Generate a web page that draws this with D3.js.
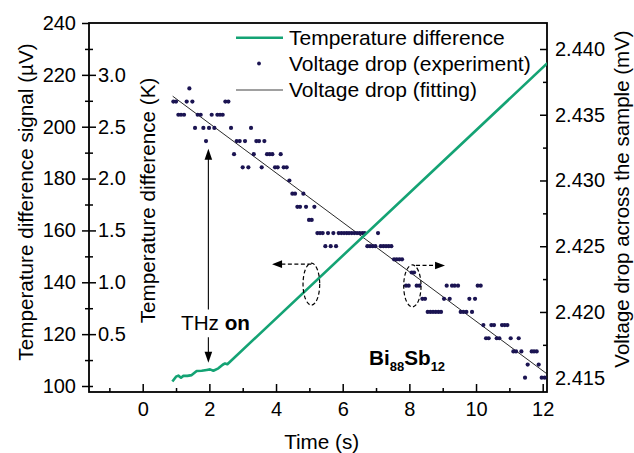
<!DOCTYPE html>
<html><head><meta charset="utf-8">
<script src="https://cdn.jsdelivr.net/npm/d3@7"></script>
<style>
body{margin:0;background:#fff}
svg{display:block}
text{font-family:"Liberation Sans",Arial,sans-serif;fill:#000}
</style>
</head><body>
<svg id="c" width="634" height="453"></svg>
<script>
// ---------- data ----------
const tempTime   = [0.89, 1.00, 1.07, 1.15, 1.22, 1.34, 1.47, 1.62, 1.77, 1.92, 2.02, 2.12, 2.27, 2.40, 2.47, 2.54, 12.14];
const tempSignal = [101.7, 103.6, 104.0, 103.2, 103.9, 103.9, 104.2, 105.8, 105.9, 106.2, 106.4, 105.9, 106.8, 108.2, 108.7, 108.4, 224.5];

const voltTime = [0.92,1.00,1.07,1.15,1.24,1.32,1.40,1.49,1.57,1.65,1.74,1.82,1.90,1.99,2.07,2.15,2.24,2.32,2.40,2.48,2.57,2.65,2.74,2.82,2.91,3.00,3.07,3.17,3.25,3.33,3.41,3.49,3.57,3.65,3.73,3.81,3.89,3.97,4.05,4.14,4.23,4.32,4.40,4.49,4.57,4.64,4.72,4.82,4.90,4.99,5.07,5.15,5.24,5.32,5.40,5.48,5.56,5.64,5.72,5.80,5.88,5.96,6.04,6.12,6.19,6.27,6.35,6.43,6.51,6.59,6.66,6.74,6.82,6.90,6.98,7.06,7.14,7.22,7.30,7.38,7.46,7.54,7.62,7.70,7.78,7.90,7.98,8.07,8.14,8.22,8.30,8.39,8.47,8.55,8.63,8.71,8.79,8.87,8.95,9.04,9.12,9.21,9.28,9.36,9.46,9.54,9.62,9.71,9.80,9.88,9.97,10.05,10.14,10.22,10.30,10.38,10.46,10.54,10.62,10.70,10.78,10.86,10.94,11.04,11.12,11.20,11.28,11.36,11.47,11.55,11.67,11.74,11.82,11.88,11.97,12.06];
const voltValue = [2.436,2.436,2.435,2.435,2.435,2.436,2.437,2.436,2.434,2.435,2.435,2.434,2.433,2.434,2.435,2.434,2.435,2.435,2.435,2.436,2.436,2.434,2.432,2.433,2.433,2.431,2.433,2.431,2.434,2.432,2.433,2.433,2.431,2.433,2.432,2.432,2.432,2.431,2.431,2.432,2.431,2.431,2.430,2.429,2.429,2.428,2.428,2.429,2.428,2.427,2.427,2.428,2.426,2.426,2.426,2.425,2.426,2.425,2.426,2.425,2.426,2.426,2.426,2.426,2.426,2.426,2.426,2.426,2.426,2.426,2.426,2.425,2.425,2.425,2.425,2.426,2.425,2.425,2.425,2.425,2.425,2.424,2.424,2.424,2.424,2.422,2.422,2.423,2.423,2.422,2.422,2.421,2.421,2.420,2.420,2.420,2.420,2.420,2.420,2.421,2.422,2.421,2.422,2.422,2.422,2.420,2.420,2.420,2.421,2.420,2.421,2.422,2.422,2.419,2.418,2.418,2.419,2.419,2.418,2.418,2.419,2.419,2.419,2.418,2.417,2.417,2.418,2.417,2.415,2.416,2.417,2.417,2.417,2.416,2.415,2.415];

const fitTime  = [0.90, 12.14];
const fitValue = [2.43641, 2.41527];

const xTicks      = [0, 2, 4, 6, 8, 10, 12];
const xMinorTicks = [-1, 1, 3, 5, 7, 9, 11];
const leftTicks      = [100, 120, 140, 160, 180, 200, 220, 240];
const leftMinorTicks = [110, 130, 150, 170, 190, 210, 230];
const innerTicks      = [0.5, 1.0, 1.5, 2.0, 2.5, 3.0];
const innerMinorTicks = [0, 0.25, 0.75, 1.25, 1.75, 2.25, 2.75, 3.25];
const rightTicks      = [2.415, 2.420, 2.425, 2.430, 2.435, 2.440];
const rightMinorTicks = [2.4175, 2.4225, 2.4275, 2.4325, 2.4375];

const legendLabels = ["Temperature difference", "Voltage drop (experiment)", "Voltage drop (fitting)"];

// ---------- layout ----------
const L = 89, R = 547, T = 23, B = 392;
const GREEN = "#14a374", NAVY = "#1b1452";
const TICKFS = "20px", TITLEFS = "20.7px";

const svg = d3.select("#c");
const x  = d3.scaleLinear().domain([0, 12]).range([142.7, 542.7]);
const yL = d3.scaleLinear().domain([100, 240]).range([386, 23]);
const yK = d3.scaleLinear().domain([0, 3.5]).range([386, 23]);
const yR = d3.scaleLinear().domain([2.415, 2.440]).range([377.7, 49]);

svg.append("defs").append("clipPath").attr("id", "clip")
  .append("rect").attr("x", L).attr("y", T).attr("width", R - L).attr("height", B - T);

function styleAxis(g) {
  g.select(".domain").remove();
  g.selectAll("line").attr("stroke", "#000").attr("stroke-width", 1.5);
  g.selectAll("text").style("font-size", TICKFS).attr("fill", "#000")
    .style("font-family", '"Liberation Sans",Arial,sans-serif');
}

// bottom axis
svg.append("g").attr("transform", `translate(0,${B})`)
  .call(d3.axisBottom(x).tickValues(xTicks).tickSizeInner(-8).tickSizeOuter(0).tickPadding(10).tickFormat(d3.format("d")))
  .call(styleAxis);
svg.append("g").attr("transform", `translate(0,${B})`)
  .call(d3.axisBottom(x).tickValues(xMinorTicks).tickSizeInner(-4).tickSizeOuter(0).tickFormat(""))
  .call(styleAxis);

// left outer axis (µV)
svg.append("g").attr("transform", `translate(${L},0)`)
  .call(d3.axisLeft(yL).tickValues(leftTicks).tickSizeInner(7).tickSizeOuter(0).tickPadding(6).tickFormat(d3.format("d")))
  .call(styleAxis);
svg.append("g").attr("transform", `translate(${L},0)`)
  .call(d3.axisLeft(yL).tickValues(leftMinorTicks).tickSizeInner(4).tickSizeOuter(0).tickFormat(""))
  .call(styleAxis);

// inner axis (K)
svg.append("g").attr("transform", `translate(${L},0)`)
  .call(d3.axisRight(yK).tickValues(innerTicks).tickSizeInner(7).tickSizeOuter(0).tickPadding(2).tickFormat(d3.format(".1f")))
  .call(styleAxis);
svg.append("g").attr("transform", `translate(${L},0)`)
  .call(d3.axisRight(yK).tickValues(innerMinorTicks).tickSizeInner(4).tickSizeOuter(0).tickFormat(""))
  .call(styleAxis);

// right axis (mV)
svg.append("g").attr("transform", `translate(${R},0)`)
  .call(d3.axisRight(yR).tickValues(rightTicks).tickSizeInner(-7).tickSizeOuter(0).tickPadding(8).tickFormat(d3.format(".3f")))
  .call(styleAxis);
svg.append("g").attr("transform", `translate(${R},0)`)
  .call(d3.axisRight(yR).tickValues(rightMinorTicks).tickSizeInner(-4).tickSizeOuter(0).tickFormat(""))
  .call(styleAxis);

// frame
svg.append("rect").attr("x", L).attr("y", T).attr("width", R - L).attr("height", B - T)
  .attr("fill", "none").attr("stroke", "#000").attr("stroke-width", 1.8);

// titles
svg.append("text").attr("transform", "translate(33,202) rotate(-90)").attr("text-anchor", "middle")
  .style("font-size", TITLEFS).text("Temperature difference signal (\u00B5V)");
svg.append("text").attr("transform", "translate(155,200.5) rotate(-90)").attr("text-anchor", "middle")
  .style("font-size", TITLEFS).text("Temperature difference (K)");
svg.append("text").attr("transform", "translate(628.5,199) rotate(-90)").attr("text-anchor", "middle")
  .style("font-size", "20.5px").text("Voltage drop across the sample (mV)");
svg.append("text").attr("x", 321.7).attr("y", 449).attr("text-anchor", "middle")
  .style("font-size", TITLEFS).text("Time (s)");

// data
const plot = svg.append("g").attr("clip-path", "url(#clip)");

const fitData = fitTime.map((t, i) => [t, fitValue[i]]);
plot.append("path").datum(fitData)
  .attr("d", d3.line().x(d => x(d[0])).y(d => yR(d[1])))
  .attr("fill", "none").attr("stroke", "#111").attr("stroke-width", 0.9);

const voltData = voltTime.map((t, i) => [t, voltValue[i]]);
plot.selectAll("circle.v").data(voltData).join("circle").attr("class", "v")
  .attr("cx", d => x(d[0])).attr("cy", d => yR(d[1])).attr("r", 2.1).attr("fill", NAVY);

const tempData = tempTime.map((t, i) => [t, tempSignal[i]]);
plot.append("path").datum(tempData)
  .attr("d", d3.line().x(d => x(d[0])).y(d => yL(d[1])))
  .attr("fill", "none").attr("stroke", GREEN).attr("stroke-width", 2.6).attr("stroke-linejoin", "round");

// legend
const lg = svg.append("g");
lg.append("line").attr("x1", 236).attr("x2", 283).attr("y1", 37.7).attr("y2", 37.7)
  .attr("stroke", GREEN).attr("stroke-width", 2.6);
lg.append("circle").attr("cx", 259).attr("cy", 63.5).attr("r", 1.9).attr("fill", NAVY);
lg.append("line").attr("x1", 236).attr("x2", 283).attr("y1", 90).attr("y2", 90)
  .attr("stroke", "#808080").attr("stroke-width", 1.3);
[45, 71, 96.7].forEach((yy, i) => {
  lg.append("text").attr("x", 289).attr("y", yy).style("font-size", "21px").text(legendLabels[i]);
});

// annotations
const ann = svg.append("g");
function arrowHead(g, tipX, tipY, dir, len, half) {
  let pts;
  if (dir === "up") pts = [[tipX, tipY], [tipX - half, tipY + len], [tipX + half, tipY + len]];
  if (dir === "down") pts = [[tipX, tipY], [tipX - half, tipY - len], [tipX + half, tipY - len]];
  if (dir === "left") pts = [[tipX, tipY], [tipX + len, tipY - half], [tipX + len, tipY + half]];
  if (dir === "right") pts = [[tipX, tipY], [tipX - len, tipY - half], [tipX - len, tipY + half]];
  g.append("path").attr("d", "M" + pts.map(p => p.join(",")).join("L") + "Z").attr("fill", "#000");
}
// THz on arrows
const tThz = 1.97;
ann.append("line").attr("x1", x(tThz)).attr("x2", x(tThz)).attr("y1", yL(129.5)).attr("y2", yL(188))
  .attr("stroke", "#000").attr("stroke-width", 1.1);
arrowHead(ann, x(tThz), yL(191.5), "up", 11, 3.8);
ann.append("line").attr("x1", x(tThz)).attr("x2", x(tThz)).attr("y1", yL(118.8)).attr("y2", yL(112))
  .attr("stroke", "#000").attr("stroke-width", 1.1);
arrowHead(ann, x(tThz), yL(109), "down", 11, 3.8);
const thz = ann.append("text").attr("x", x(1.15)).attr("y", yL(121.6)).style("font-size", TITLEFS);
thz.append("tspan").text("THz ");
thz.append("tspan").style("font-weight", "bold").text("on");

// dashed ellipses and arrows
function dashedMarker(cxT, cyV, rxT, ryV, tipT, arrowV, fromT, dir) {
  ann.append("ellipse").attr("cx", x(cxT)).attr("cy", yL(cyV))
    .attr("rx", x(cxT + rxT) - x(cxT)).attr("ry", yL(cyV - ryV) - yL(cyV))
    .attr("fill", "none").attr("stroke", "#000").attr("stroke-width", 1.2).attr("stroke-dasharray", "4,2.5");
  const tipX = x(tipT), y0 = yL(arrowV);
  const endX = dir === "left" ? tipX + 9 : tipX - 9;
  ann.append("line").attr("x1", x(fromT)).attr("x2", endX).attr("y1", y0).attr("y2", y0)
    .attr("stroke", "#000").attr("stroke-width", 1.2).attr("stroke-dasharray", "4,2.5");
  arrowHead(ann, tipX, y0, dir, 10, 3.8);
}
dashedMarker(5.06, 139.3, 0.25, 8.1, 3.88, 147.0, 5.06, "left");
dashedMarker(8.09, 138.6, 0.26, 8.1, 9.07, 146.5, 8.2, "right");

// compound label
const bi = ann.append("text").attr("x", x(6.79)).attr("y", yL(108.1))
  .style("font-size", TITLEFS).style("font-weight", "bold");
bi.append("tspan").text("Bi");
bi.append("tspan").attr("dy", 6).style("font-size", "13px").text("88");
bi.append("tspan").attr("dy", -6).text("Sb");
bi.append("tspan").attr("dy", 6).style("font-size", "13px").text("12");
</script>
</body></html>
